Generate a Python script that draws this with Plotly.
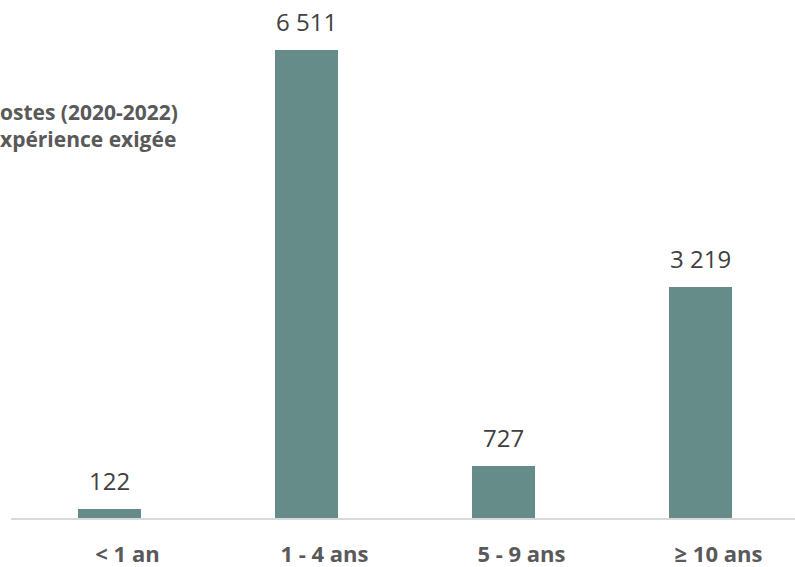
import plotly.graph_objects as go

categories = ["< 1 an", "1 - 4 ans", "5 - 9 ans", "≥ 10 ans"]
values = [122, 6511, 727, 3219]
value_labels = ["122", "6 511", "727", "3 219"]
title_lines = ["ostes (2020-2022)", "xpérience exigée"]

bar_color = "#668C89"

fig = go.Figure()
fig.add_trace(go.Bar(
    x=categories, y=values, width=0.32,
    marker=dict(color=bar_color, line=dict(width=0)),
    hoverinfo="skip",
))

for c, v, t in zip(categories, values, value_labels):
    fig.add_annotation(
        x=c, y=v, text=t, showarrow=False, yanchor="bottom",
        yshift=10, font=dict(family="Open Sans", size=24, color="#404040"),
    )

fig.add_annotation(
    xref="paper", yref="paper", x=-0.016, y=0.757, xanchor="left", yanchor="middle",
    align="left", showarrow=False, text="<br>".join(title_lines),
    font=dict(family="Open Sans", size=21, color="#595959", weight="bold"),
)

fig.update_layout(
    width=795, height=567,
    margin=dict(l=11, r=0, t=0, b=49, autoexpand=False),
    paper_bgcolor="white", plot_bgcolor="white",
    showlegend=False,
    bargap=0,
    xaxis=dict(
        range=[-0.5, 3.48], showline=True, linecolor="#D9D9D9", linewidth=2,
        showgrid=False, zeroline=False, ticks="", ticklabelshift=18,
        ticklabelstandoff=16, automargin=False,
        tickfont=dict(family="Open Sans", size=22, color="#595959", weight="bold"),
    ),
    yaxis=dict(range=[0, 7207], visible=False, showgrid=False, zeroline=False,
               automargin=False),
)

fig.write_html("out.html")
